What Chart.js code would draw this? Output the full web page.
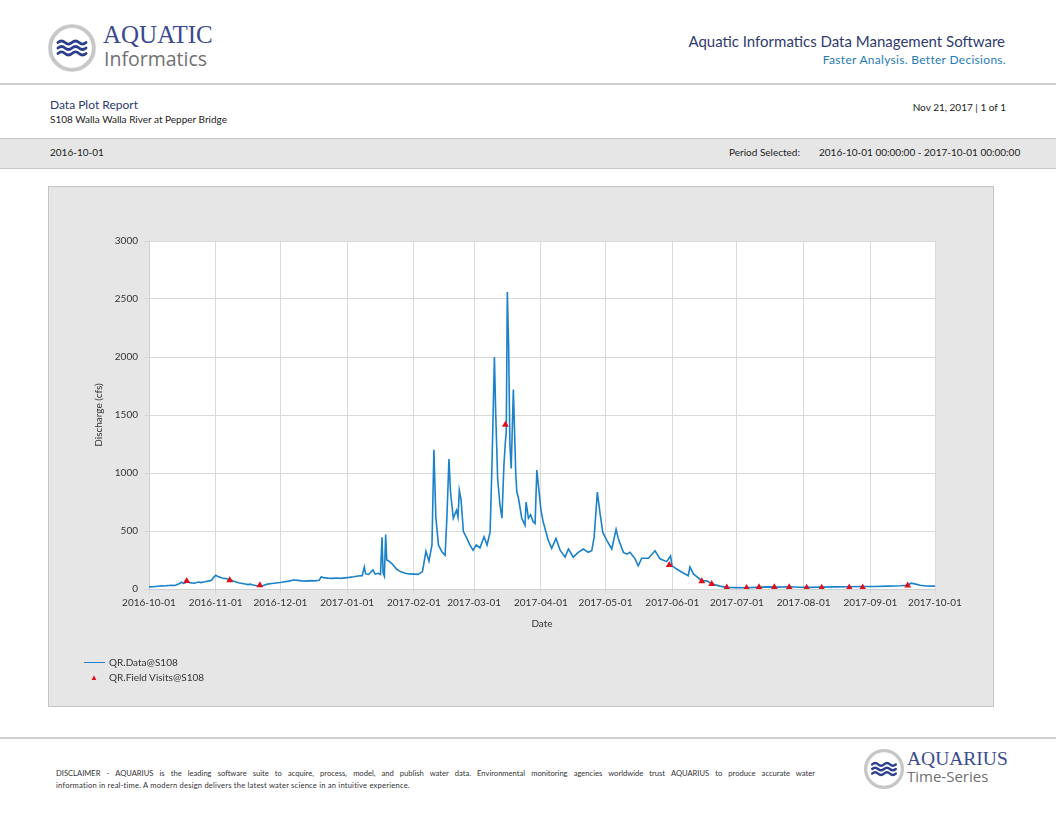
<!DOCTYPE html>
<html lang="en">
<head>
<meta charset="UTF-8">
<title>Data Plot Report - S108 Walla Walla River at Pepper Bridge</title>
<script src="https://cdn.jsdelivr.net/npm/chart.js"></script>
<style>
    body {
        margin: 0;
        width: 1056px;
        height: 816px;
        position: relative;
        overflow: hidden;
        background: #fff;
        font-family: Lato, "Open Sans", sans-serif;
        color: #222;
    }
    .abs { position: absolute; white-space: nowrap; }
    .rule { position: absolute; left: 0; width: 1056px; height: 0; border-top: 2px solid #cfcfcf; }
    .band {
        position: absolute; left: 0; top: 138px; width: 1056px; height: 29px;
        background: #e6e6e6; border-top: 1px solid #c8c8c8; border-bottom: 1px solid #c8c8c8;
    }
    .chart-box {
        position: absolute; left: 48px; top: 186px; width: 944px; height: 519px;
        background: #e6e6e6; border: 1px solid #c4c4c4;
    }
    #chart { position: absolute; left: 48px; top: 186px; }
    .small { font-size: 10px; color: #222; }
    .legend { font-size: 10px; color: #333; }
    .disclaimer { font-size: 7.6px; color: #333; }
</style>
</head>
<body>
    <!-- header -->
    <svg class="abs" style="left:47px;top:23px" width="50" height="50" viewBox="0 0 64 64">
        <circle cx="32" cy="32" r="28" fill="#fff" stroke="#c7c7c7" stroke-width="5"/>
        <g fill="none" stroke="#2b3f8e" stroke-width="3.6" stroke-linecap="round">
            <path d="M14 25 q4.5 -4 9 0 t9 0 t9 0 t9 0"/>
            <path d="M14 32 q4.5 -4 9 0 t9 0 t9 0 t9 0"/>
            <path d="M14 39 q4.5 -4 9 0 t9 0 t9 0 t9 0"/>
        </g>
    </svg>
    <div class="abs" style="left:103px;top:21px;font-family:'Liberation Serif',serif;font-size:25px;color:#3b4a8e;">AQUATIC</div>
    <div class="abs" style="left:104px;top:45px;font-family:'Open Sans',sans-serif;font-size:19.5px;color:#707070;">Informatics</div>

    <div class="abs" style="right:51px;top:32px;font-size:15px;color:#2f3b70;">Aquatic Informatics Data Management Software</div>
    <div class="abs" style="right:50px;top:52px;font-size:12px;color:#1f7bb8;letter-spacing:0.3px;">Faster Analysis. Better Decisions.</div>

    <div class="rule" style="top:83px"></div>

    <div class="abs" style="left:50px;top:97px;font-size:12px;color:#2d3a6e;">Data Plot Report</div>
    <div class="abs small" style="left:50px;top:113px;">S108 Walla Walla River at Pepper Bridge</div>
    <div class="abs small" style="right:50px;top:101px;">Nov 21, 2017 | 1 of 1</div>

    <div class="band"></div>
    <div class="abs small" style="left:50px;top:146px;">2016-10-01</div>
    <div class="abs small" style="left:729px;top:146px;">Period Selected:</div>
    <div class="abs small" style="left:819px;top:146px;">2016-10-01 00:00:00 - 2017-10-01 00:00:00</div>

    <!-- chart -->
    <div class="chart-box"></div>
    <canvas id="chart" width="945" height="520"></canvas>

    <div class="abs" style="left:84px;top:662px;width:21px;border-top:1.5px solid #1b82c9;"></div>
    <div class="abs legend" style="left:109px;top:656px;">QR.Data@S108</div>
    <div class="abs" style="left:90px;top:672px;font-size:8px;color:#e0101a;">&#9650;</div>
    <div class="abs legend" style="left:109px;top:671px;">QR.Field Visits@S108</div>

    <!-- footer -->
    <div class="rule" style="top:737px"></div>
    <div class="abs disclaimer" style="left:56px;top:768px;width:759px;text-align:justify;text-align-last:justify;">DISCLAIMER - AQUARIUS is the leading software suite to acquire, process, model, and publish water data. Environmental monitoring agencies worldwide trust AQUARIUS to produce accurate water</div>
    <div class="abs disclaimer" style="left:56px;top:780px;letter-spacing:0.2px;">information in real-time. A modern design delivers the latest water science in an intuitive experience.</div>

    <svg class="abs" style="left:863px;top:748px" width="42" height="42" viewBox="0 0 64 64">
        <circle cx="32" cy="32" r="28" fill="#fff" stroke="#c7c7c7" stroke-width="5"/>
        <g fill="none" stroke="#2b3f8e" stroke-width="3.6" stroke-linecap="round">
            <path d="M14 25 q4.5 -4 9 0 t9 0 t9 0 t9 0"/>
            <path d="M14 32 q4.5 -4 9 0 t9 0 t9 0 t9 0"/>
            <path d="M14 39 q4.5 -4 9 0 t9 0 t9 0 t9 0"/>
        </g>
    </svg>
    <div class="abs" style="left:907px;top:748px;font-family:'Liberation Serif',serif;font-size:19.5px;color:#3b4a8e;">AQUARIUS</div>
    <div class="abs" style="left:907px;top:766px;font-family:'Open Sans',sans-serif;font-size:15px;color:#707070;">Time-Series</div>

    <script>
        // x values are days since 2016-10-01
        const monthDays = [0, 31, 61, 92, 123, 151, 182, 212, 243, 273, 304, 335, 365];
        const monthLabels = ['2016-10-01', '2016-11-01', '2016-12-01', '2017-01-01', '2017-02-01', '2017-03-01',
                             '2017-04-01', '2017-05-01', '2017-06-01', '2017-07-01', '2017-08-01', '2017-09-01', '2017-10-01'];

        // QR.Data@S108 discharge (cfs)
        const flowDays = [0, 2, 4, 6, 7, 9, 11, 12, 14, 15, 16, 18, 19, 21, 23, 24, 26, 28, 29, 30,
            31, 32, 34, 36, 38, 40, 42, 44, 46, 47, 48, 50, 51.5, 53, 55, 57, 59, 61, 63, 65,
            67, 69, 71, 73, 75, 77, 79, 80, 81, 83, 85, 87, 89, 91, 93, 95, 97, 99, 100, 100.6,
            102, 104, 105, 106.5, 107.5, 108.2, 108.7, 109.3, 109.9, 110.4, 111.5, 113, 115, 117, 119, 121, 123, 125, 127, 128.6,
            130, 131.4, 132.3, 133.2, 134.4, 136, 137.5, 138.3, 139.3, 140, 141.3, 142.8, 143.5, 144.1, 144.9, 146, 147.5, 149, 150.5, 152,
            153.7, 155.6, 157, 158.4, 159.3, 160.4, 161, 161.9, 163, 163.9, 164.8, 165.5, 165.9, 166.4, 167, 167.6, 168.2, 168.7, 169.2, 169.7,
            170.3, 170.8, 171.6, 173.1, 174.6, 175.1, 176.2, 177.2, 178.4, 179.3, 180.1, 180.8, 182, 183.1, 185.4, 187, 189, 190.9, 193.2, 194.8,
            197, 199.3, 201.7, 204, 205.6, 206.7, 208.2, 209.4, 210.7, 212.6, 214.9, 216.9, 218, 220.3, 221.8, 223.4, 225.7, 227.2, 228.8, 231.9,
            235, 237.3, 240.4, 242.2, 242.9, 245, 248.1, 250.4, 251.2, 252.8, 256.7, 259, 261.3, 265, 268.5, 272, 277, 282, 287, 292,
            297, 302, 307, 312, 318, 325, 331, 337, 343, 349, 352, 354, 356, 358, 361, 365];
        const flowCfs = [18, 20, 24, 28, 26, 30, 32, 30, 45, 58, 48, 62, 55, 50, 60, 55, 62, 70, 75, 100,
            118, 108, 95, 88, 78, 62, 52, 45, 38, 42, 36, 28, 22, 30, 42, 48, 52, 56, 62, 68,
            78, 74, 70, 68, 72, 70, 75, 105, 98, 94, 92, 95, 92, 96, 100, 105, 112, 115, 190, 130,
            125, 165, 128, 135, 125, 445, 140, 110, 470, 250, 240, 215, 170, 148, 136, 130, 128, 126, 150, 325,
            240, 380, 1200, 620, 380, 320, 290, 600, 1120, 840, 610, 680, 620, 850, 770, 495, 440, 380, 335, 380,
            355, 450, 380, 490, 1090, 2000, 1520, 950, 720, 610, 1060, 1270, 1350, 2560, 2100, 1240, 1040, 1380, 1720, 1400,
            1000, 840, 780, 610, 550, 750, 610, 640, 580, 565, 1025, 900, 680, 575, 420, 350, 435, 335, 275, 345,
            275, 316, 345, 316, 330, 445, 835, 660, 490, 420, 345, 515, 430, 316, 300, 316, 260, 200, 265, 265,
            330, 260, 236, 285, 200, 172, 138, 115, 190, 130, 72, 70, 45, 25, 14, 12, 11, 14, 18, 16,
            20, 15, 14, 16, 18, 20, 22, 22, 25, 28, 32, 50, 42, 32, 26, 25];

        // QR.Field Visits@S108
        const visitDays = [17.5, 37.5, 51.5, 165.5, 241.6, 256.7, 261.3, 268.3, 277.5, 283.3, 290.4, 297.3, 305.4, 312.4, 325.2, 331.4, 352.3];
        const visitCfs = [70, 75, 32, 1415, 207, 66, 43, 12, 9, 15, 15, 15, 10, 10, 12, 14, 30];

        const plotBackground = {
            id: 'plotBackground',
            beforeDraw(chart) {
                const { ctx, chartArea: a } = chart;
                ctx.save();
                ctx.fillStyle = '#ffffff';
                ctx.fillRect(a.left, a.top, a.right - a.left, a.bottom - a.top);
                ctx.restore();
            }
        };

        const tickFont = { family: 'Lato, "Open Sans", sans-serif', size: 10 };

        new Chart(document.getElementById('chart').getContext('2d'), {
            type: 'line',
            data: {
                datasets: [{
                    label: 'QR.Data@S108',
                    data: flowDays.map((d, i) => ({ x: d, y: flowCfs[i] })),
                    borderColor: '#1b82c9',
                    borderWidth: 1.6,
                    pointRadius: 0,
                    tension: 0,
                    order: 2
                }, {
                    label: 'QR.Field Visits@S108',
                    data: visitDays.map((d, i) => ({ x: d, y: visitCfs[i] })),
                    showLine: false,
                    pointStyle: 'triangle',
                    pointRadius: 4,
                    backgroundColor: '#e0101a',
                    borderColor: '#e0101a',
                    borderWidth: 0,
                    order: 1
                }]
            },
            options: {
                responsive: false,
                animation: false,
                layout: { padding: { left: 41, top: 55, right: 58, bottom: 72 } },
                plugins: {
                    legend: { display: false },
                    tooltip: { enabled: false }
                },
                scales: {
                    x: {
                        type: 'linear',
                        min: 0,
                        max: 365,
                        afterBuildTicks: (scale) => {
                            scale.ticks = monthDays.map(v => ({ value: v }));
                        },
                        afterFit: (scale) => { scale.height = 45; },
                        ticks: {
                            autoSkip: false,
                            maxRotation: 0,
                            padding: 3,
                            color: '#333',
                            font: tickFont,
                            callback: (v) => monthLabels[monthDays.indexOf(v)]
                        },
                        grid: { color: '#d9d9d9', lineWidth: 1, tickLength: 5 },
                        border: { color: '#d0d0d0' },
                        title: { display: true, text: 'Date', color: '#333', font: tickFont }
                    },
                    y: {
                        min: 0,
                        max: 3000,
                        afterFit: (scale) => { scale.width = 60; },
                        ticks: {
                            stepSize: 500,
                            padding: 6,
                            color: '#333',
                            font: tickFont,
                            callback: (v) => String(v)
                        },
                        grid: { color: '#d9d9d9', lineWidth: 1, tickLength: 5 },
                        border: { color: '#d0d0d0' },
                        title: { display: true, text: 'Discharge (cfs)', color: '#333', font: tickFont }
                    }
                }
            },
            plugins: [plotBackground]
        });
    </script>
</body>
</html>
